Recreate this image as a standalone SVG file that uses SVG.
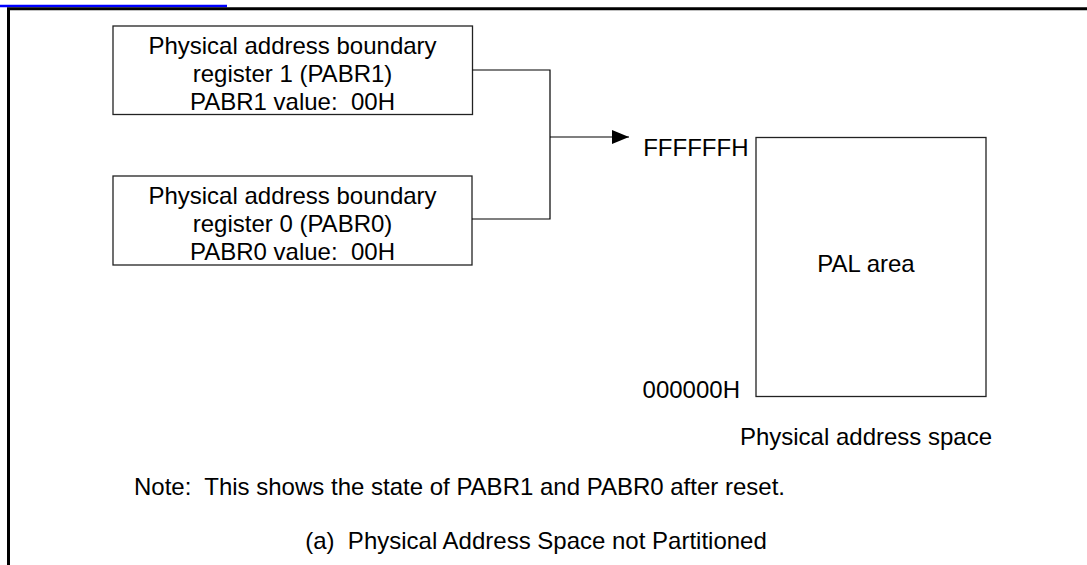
<svg xmlns="http://www.w3.org/2000/svg" width="1087" height="565" viewBox="0 0 1087 565">
<style>
text{font-family:"Liberation Sans",Arial,sans-serif;font-size:24px;fill:#000}
.box{fill:#fff;stroke:#222;stroke-width:1.3}
.conn{fill:none;stroke:#000;stroke-width:1.2}
.mid{text-anchor:middle}
.end{text-anchor:end}
</style>
<defs>
<marker id="arrow" markerWidth="18" markerHeight="14" refX="17" refY="7" orient="auto" markerUnits="userSpaceOnUse">
<path d="M0,0 L17,7 L0,14 Z" fill="#000"/>
</marker>
</defs>
<g id="frame">
<line x1="0" y1="6" x2="227" y2="6" stroke="#0000ff" stroke-width="2.3"/>
<path d="M8.5,565 V8.7 H1087" fill="none" stroke="#000" stroke-width="3"/>
</g>
<g id="pabr1">
<rect class="box" x="113" y="26" width="359.5" height="88.5"/>
<text class="mid" x="292.5" y="54">Physical address boundary</text>
<text class="mid" x="292.5" y="82">register 1 (PABR1)</text>
<text class="mid" x="292.5" y="110" xml:space="preserve">PABR1 value:  00H</text>
</g>
<g id="pabr0">
<rect class="box" x="113" y="176" width="359" height="89"/>
<text class="mid" x="292.5" y="203.5">Physical address boundary</text>
<text class="mid" x="292.5" y="231.5">register 0 (PABR0)</text>
<text class="mid" x="292.5" y="259.5" xml:space="preserve">PABR0 value:  00H</text>
</g>
<g id="connectors">
<path class="conn" d="M472.5,70 H550 V219 H472"/>
<path class="conn" d="M550,137 H629" marker-end="url(#arrow)"/>
</g>
<g id="pal">
<rect class="box" x="756" y="137.5" width="230" height="259"/>
<text class="mid" x="866" y="272">PAL area</text>
<text class="end" x="748.5" y="156">FFFFFFH</text>
<text class="end" x="740" y="398">000000H</text>
<text class="mid" x="866" y="445">Physical address space</text>
</g>
<g id="notes">
<text x="134" y="495" xml:space="preserve">Note:  This shows the state of PABR1 and PABR0 after reset.</text>
<text class="mid" x="536" y="549" xml:space="preserve">(a)  Physical Address Space not Partitioned</text>
</g>
</svg>
